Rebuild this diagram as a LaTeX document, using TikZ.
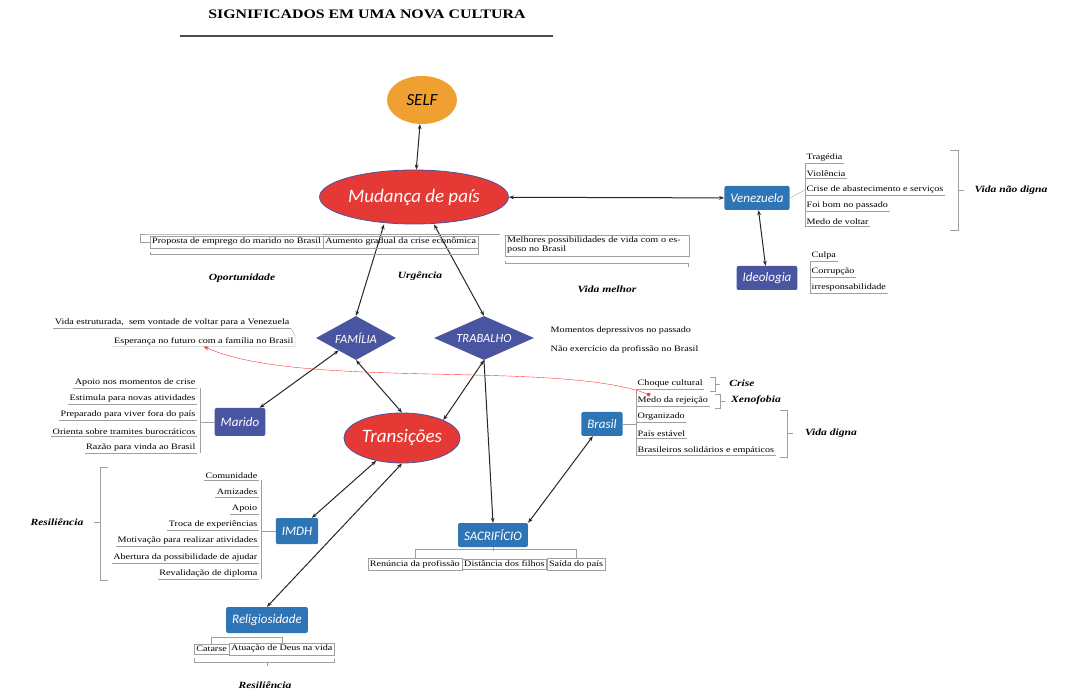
\documentclass[tikz,border=0pt]{standalone}
\usepackage{fontspec}
\setmainfont{Liberation Serif}
\newfontfamily\boxfont{Carlito}
\newfontfamily\itemfont[FakeStretch=1.22]{Liberation Serif}
\usetikzlibrary{shapes.geometric,arrows.meta}
\definecolor{cRed}{HTML}{E53935}
\definecolor{cOrange}{HTML}{F0A030}
\definecolor{cBlue}{HTML}{2E75B6}
\definecolor{cIndigo}{HTML}{4A55A2}
\definecolor{cLine}{HTML}{A0A0A0}
\tikzset{
  ell/.style={ellipse, fill=cRed, draw=cIndigo, thick, text=white, inner sep=1pt, font=\boxfont\itshape\fontsize{19}{20}\selectfont},
  dia/.style={diamond, aspect=2.2, fill=cIndigo, text=white, inner sep=1pt, font=\boxfont\itshape\fontsize{12.5}{13}\selectfont},
  blk/.style={rounded corners=2pt, fill=cBlue, text=white, minimum height=24pt, inner xsep=6pt, font=\boxfont\itshape\fontsize{13}{14}\selectfont},
  item/.style={inner sep=1.5pt, font=\itemfont\fontsize{8.3}{9}\selectfont},
  tag/.style={font=\itemfont\bfseries\itshape\fontsize{9.5}{10}\selectfont},
  itembox/.style={item, draw=cLine, inner sep=2pt},
  uline/.style={cLine, thin},
  link/.style={{Stealth[length=5pt]}-{Stealth[length=5pt]}, semithick, black!85, line width=1pt}
}
\begin{document}
\begin{tikzpicture}[x=1pt,y=-1pt]
	\useasboundingbox (0,0) rectangle (1066,700);

	% title
	\node[font=\itemfont\bfseries\fontsize{13}{14}\selectfont] (title) at (367,14) {SIGNIFICADOS EM UMA NOVA CULTURA};
	\draw[very thick, black!70] (180,36) -- (553,36);

	% main nodes
	\node[ellipse, fill=cOrange, minimum width=70pt, minimum height=48pt, font=\boxfont\itshape\fontsize{17}{18}\selectfont] (self) at (422,100) {SELF};
	\node[ell, minimum width=165pt, minimum height=54pt] (mud) at (414,197) {Mudança de país};
	\node[ell, minimum width=100pt, minimum height=50pt] (trans) at (402,438) {Transições};
	\node[dia, minimum width=80pt, minimum height=44pt] (fam) at (356,338) {FAMÍLIA};
	\node[dia, minimum width=100pt, minimum height=44pt] (trab) at (484,338) {TRABALHO};
	\node[blk] (ven) at (757,198) {Venezuela};
	\node[blk, fill=cIndigo] (ideo) at (767,278) {Ideologia};
	\node[blk, fill=cIndigo, minimum height=28pt] (mar) at (240,422) {Marido};
	\node[blk] (bra) at (602,424) {Brasil};
	\node[blk, minimum height=26pt] (imdh) at (297,531) {IMDH};
	\node[blk] (sac) at (493,535) {SACRIFÍCIO};
	\node[blk, minimum height=26pt] (rel) at (267,620) {Religiosidade};

	% connectors
	\draw[link] (self) -- (mud);
	\draw[link] (mud) -- (ven);
	\draw[link] (ven) -- (ideo);
	\draw[link] (mud.south) ++(-30,0) coordinate (m1) (m1) -- (fam.north);
	\draw[link] (mud.south) ++(20,0) coordinate (m2) (m2) -- (trab.north);
	\draw[link] (fam) -- (mar);
	\draw[link] (fam.south) -- (trans.north);
	\draw[link] (trab.south) -- (trans.north east);
	\draw[-{Stealth[length=5pt]}, line width=1pt, black!85] (trab.south) -- (sac.north);
	\draw[link] (bra) -- (sac.north east);
	\draw[link] (trans) -- (imdh);
	\draw[link] (trans.south) -- (rel.north);

	% mudanca list
	\node[itembox, anchor=west] (op1) at (150,242) {Proposta de emprego do marido no Brasil};
	\node[itembox, anchor=west] (op2) at (op1.east) {Aumento gradual da crise econômica};
	\node[itembox, anchor=north west, text width=180pt, align=left] (op3) at (505,235) {Melhores possibilidades de vida com o esposo no Brasil};
	\draw[uline] (140,243) |- (op1.west);
	\draw[uline] (140,243) |- (150,234) -- (500,234);
	\draw[uline] (op1.south west) ++(0,4) -- ++(0,2) -| (op2.south east);
	\draw[uline] (op3.south west) ++(0,5) -- ++(0,2) -| (688,267);
	\node[tag] (tOp) at (242,278) {Oportunidade};
	\node[tag] (tUr) at (420,276) {Urgência};
	\node[tag] (tVm) at (607,289) {Vida melhor};

	% venezuela list
	\foreach \t [count=\i] in {Tragédia, Violência, Crise de abastecimento e serviços, Foi bom no passado, Medo de voltar}{
		\node[item, anchor=west] (ven\i) at (805,142+16*\i) {\t};
		\draw[uline] (ven\i.south west) -- (ven\i.south east);
	}
	\draw[uline] (ven1.south west) -- (ven5.south west);
	\draw[uline] (ven.east) -- (ven3.west);
	\draw[uline] (950,150) -- (958,150) -- (958,230) -- (950,230) (958,190) -- (964,190);
	\node[tag] (tVnd) at (1011,190) {Vida não digna};

	% ideologia list
	\foreach \t [count=\i] in {Culpa, Corrupção, irresponsabilidade}{
		\node[item, anchor=west] (ide\i) at (810,240+16*\i) {\t};
		\draw[uline] (ide\i.south west) -- (ide\i.south east);
	}
	\draw[uline] (ide1.south west) -- (ide3.south west);

	% trabalho list
	\node[item, anchor=west] (tr1) at (549,331) {Momentos depressivos no passado};
	\node[item, anchor=west] (tr2) at (549,349) {Não exercício da profissão no Brasil};

	% familia list
	\node[item, anchor=east] (fa1) at (291,323) {Vida estruturada,\ \ sem vontade de voltar para a Venezuela};
	\draw[uline] (fa1.south west) -- (fa1.south east);
	\node[item, anchor=east] (fa2) at (295,341) {Esperança no futuro com a família no Brasil};
	\draw[uline] (fa2.south west) -| (fa2.north east) -- (fa1.south east);

	% marido list
	\foreach \t [count=\i] in {Apoio nos momentos de crise, Estimula para novas atividades, Preparado para viver fora do país, Orienta sobre tramites burocráticos, Razão para vinda ao Brasil}{
		\node[item, anchor=east] (mar\i) at (197,366+16.3*\i) {\t};
		\draw[uline] (mar\i.south west) -- (mar\i.south east);
	}
	\draw[uline] (mar1.south east) ++(3,0) coordinate (mt) (mt) -- (mt |- mar5.south);
	\draw[uline] (mt |- mar.west) -- (mar.west);

	% brasil list
	\foreach \t [count=\i] in {Choque cultural, Medo da rejeição, Organizado, País estável, Brasileiros solidários e empáticos}{
		\node[item, anchor=west] (br\i) at (636,367.5+16.5*\i) {\t};
		\draw[uline] (br\i.south west) -- (br\i.south east);
	}
	\draw[uline] (br1.south west) -- (br5.south west);
	\draw[uline] (bra.east) -- (br3.west |- bra.east);
	\draw[uline] (710,377) -| (715,391) -- (710,391) (715,384) -- (720,384);
	\draw[uline] (715,394) -| (720,408) -- (715,408) (720,401) -- (725,401);
	\draw[uline] (780,410) -| (787,457) -- (780,457) (787,433) -- (793,433);
	\node[tag] (tCr) at (742,383) {Crise};
	\node[tag] (tXe) at (756,400) {Xenofobia};
	\node[tag] (tVd) at (831,433) {Vida digna};

	% red link
	\draw[red!80, thin, {Square[length=3pt]}-{Stealth[length=5pt]}] (br2.north west) ++(14,0) coordinate (rd) (rd) .. controls (560,360) and (300,390) .. (fa2.south);

	% imdh list
	\foreach \t [count=\i] in {Comunidade, Amizades, Apoio, Troca de experiências, Motivação para realizar atividades, Abertura da possibilidade de ajudar, Revalidação de diploma}{
		\node[item, anchor=east] (im\i) at (259,459.5+16.3*\i) {\t};
		\draw[uline] (im\i.south west) -- (im\i.south east);
	}
	\draw[uline] (im1.south east) ++(2,0) coordinate (it) (it) -- (it |- im7.south);
	\draw[uline] (it |- imdh.west) -- (imdh.west);
	\draw[uline] (108,467) -- (100,467) -- (100,580) -- (108,580) (100,522) -- (94,522);
	\node[tag] (tRe1) at (57,522) {Resiliência};

	% sacrificio list
	\node[itembox, anchor=west] (sa2) at (462,564) {Distância dos filhos};
	\node[itembox, anchor=east] (sa1) at (sa2.west) {Renúncia da profissão};
	\node[itembox, anchor=west] (sa3) at (sa2.east) {Saída do país};
	\draw[uline] (sa1.north) -- ++(0,-9) -| (sa3.north);
	\draw[uline] (sac.south) -- ++(0,4);

	% religiosidade list
	\node[itembox, anchor=east] (re1) at (229,649) {Catarse};
	\node[itembox, anchor=west] (re2) at (re1.east) {Atuação de Deus na vida};
	\draw[uline] (re1.north) -- ++(0,-7) -| (re2.north);
	\draw[uline] (re1.south west) ++(0,4) -- ++(0,4) -| ([yshift=-4pt]re2.south east);
	\draw[uline] (rel.south |- re1.south) ++(0,8) -- ++(0,4);
	\node[tag] (tRe2) at (265,685) {Resiliência};

\end{tikzpicture}
\end{document}
